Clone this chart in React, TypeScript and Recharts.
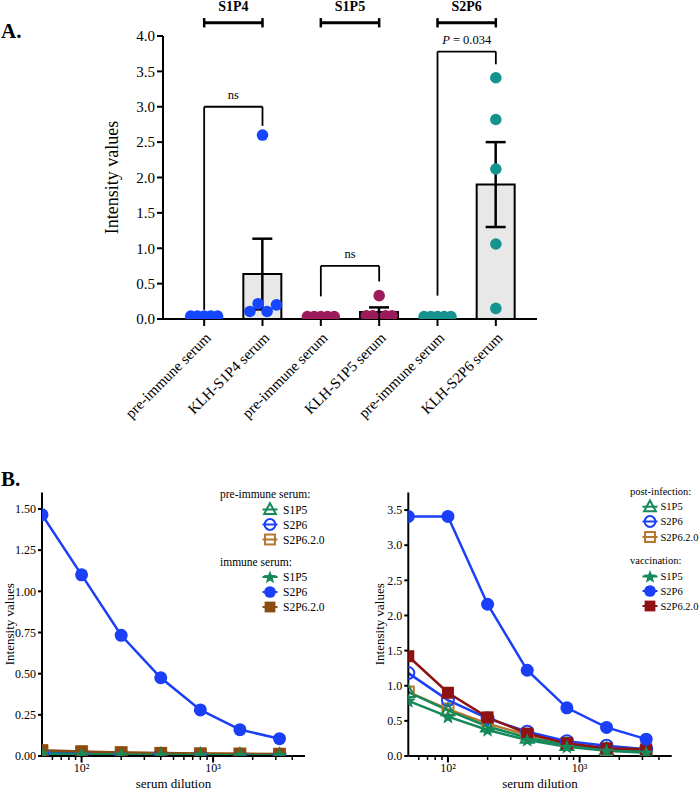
import React from 'react';
import {
  ComposedChart, Bar, ErrorBar, Scatter, XAxis, YAxis, ReferenceLine,
  LineChart, Line, Legend,
} from 'recharts';

const SERIF = "'Liberation Serif', 'Times New Roman', Times, serif";
const BLUE_A = '#1447ff';
const CRIMSON = '#9c1b5b';
const TEAL = '#14938f';
const GREEN = '#14895a';
const BLUE = '#1a3ff7';
const BROWN_LIGHT = '#b5762e';
const BROWN_DARK = '#8a4a10';
const DARK_RED = '#8e1212';

// ---------------- Panel A data ----------------
const categoriesA = [
  'pre-immune serum', 'KLH-S1P4 serum',
  'pre-immune serum', 'KLH-S1P5 serum',
  'pre-immune serum', 'KLH-S2P6 serum',
];
const yTicksA = [0, 0.5, 1, 1.5, 2, 2.5, 3, 3.5, 4];
const groupNames = ['S1P4', 'S1P5', 'S2P6'];
const barCats = [1, 3, 5];
const barMeans = [0.635, 0.098, 1.9];
const barSems = [0.5, 0.066, 0.6];

const preS1P4 = [0.04, 0.04, 0.04, 0.04, 0.04];
const klhS1P4 = [0.107, 0.216, 2.6, 0.107, 0.2];
const preS1P5 = [0.035, 0.035, 0.035, 0.035, 0.035];
const klhS1P5 = [0.045, 0.045, 0.33, 0.045, 0.045];
const preS2P6 = [0.035, 0.035, 0.035, 0.035, 0.035];
const klhS2P6 = [3.41, 2.82, 2.12, 1.06, 0.15];
const jitterPre = [-0.23, -0.115, 0, 0.115, 0.23];
const jitterKlhS1P4 = [-0.216, -0.075, 0, 0.078, 0.24];
const jitterKlhS1P5 = [-0.22, -0.11, 0, 0.11, 0.22];
const jitterKlhS2P6 = [0, 0, 0, 0, 0];

// significance brackets
const sigBrackets = [
  { from: 0, to: 1, top: 3.0, lb: 0.13, rb: 2.73, text: 'ns' },
  { from: 2, to: 3, top: 0.75, lb: 0.32, rb: 0.53, text: 'ns' },
  { from: 4, to: 5, top: 3.78, lb: 0.33, rb: 3.6, text: 'P' },
];
const groupBracketY = 4.187;
const groupCapHalf = 0.066;

const barDataA = categoriesA.map((c, i) => {
  const k = barCats.indexOf(i);
  return { i, name: c, mean: k >= 0 ? barMeans[k] : null, sem: k >= 0 ? barSems[k] : null };
});
const pts = (cat: number, vals: number[], jit: number[]) =>
  vals.map((v, i) => ({ x: cat + jit[i], y: v }));
const scatterSets = [
  { data: pts(0, preS1P4, jitterPre), color: BLUE_A },
  { data: pts(1, klhS1P4, jitterKlhS1P4), color: BLUE_A },
  { data: pts(2, preS1P5, jitterPre), color: CRIMSON },
  { data: pts(3, klhS1P5, jitterKlhS1P5), color: CRIMSON },
  { data: pts(4, preS2P6, jitterPre), color: TEAL },
  { data: pts(5, klhS2P6, jitterKlhS2P6), color: TEAL },
];

// ---------------- Panel B data ----------------
const dilutions = [50, 100, 200, 400, 800, 1600, 3200];
const logTicks = [60, 70, 80, 90, 100, 200, 300, 400, 500, 600, 700, 800, 900, 1000, 2000, 3000, 4000];
const yTicksBL = [0, 0.25, 0.5, 0.75, 1, 1.25, 1.5];
const yTicksBR = [0, 0.5, 1, 1.5, 2, 2.5, 3, 3.5];

// left: pre-immune vs immune serum
const preImmS1P5 = [0.01, 0.008, 0.007, 0.006, 0.005, 0.005, 0.004];
const preImmS2P6 = [0.02, 0.015, 0.012, 0.01, 0.008, 0.007, 0.007];
const preImmS2P62 = [0.03, 0.025, 0.02, 0.016, 0.013, 0.012, 0.011];
const immS1P5 = [0.015, 0.01, 0.008, 0.007, 0.006, 0.005, 0.005];
const immS2P6 = [1.465, 1.1, 0.733, 0.475, 0.28, 0.16, 0.105];
const immS2P62 = [0.035, 0.028, 0.022, 0.018, 0.015, 0.013, 0.012];

// right: post-infection vs vaccination
const postS1P5 = [0.91, 0.65, 0.42, 0.26, 0.156, 0.095, 0.06];
const postS2P6 = [1.18, 0.795, 0.535, 0.345, 0.21, 0.147, 0.095];
const postS2P62 = [0.91, 0.667, 0.46, 0.3, 0.18, 0.08, 0.06];
const vacS1P5 = [0.785, 0.56, 0.37, 0.227, 0.13, 0.076, 0.047];
const vacS2P6 = [3.41, 3.41, 2.16, 1.22, 0.686, 0.407, 0.24];
const vacS2P62 = [1.42, 0.9, 0.55, 0.32, 0.18, 0.11, 0.095];

const tableLeft = dilutions.map((d, i) => ({
  d, preS1P5: preImmS1P5[i], preS2P6: preImmS2P6[i], preS2P62: preImmS2P62[i],
  immS1P5: immS1P5[i], immS2P6: immS2P6[i], immS2P62: immS2P62[i],
}));
const tableRight = dilutions.map((d, i) => ({
  d, postS1P5: postS1P5[i], postS2P6: postS2P6[i], postS2P62: postS2P62[i],
  vacS1P5: vacS1P5[i], vacS2P6: vacS2P6[i], vacS2P62: vacS2P62[i],
}));

const seriesLeft = [
  { key: 'preS2P62', shape: 'sqOpen', color: BROWN_LIGHT },
  { key: 'preS2P6', shape: 'circOpen', color: BLUE },
  { key: 'preS1P5', shape: 'triOpen', color: GREEN },
  { key: 'immS2P62', shape: 'sqFill', color: BROWN_DARK },
  { key: 'immS2P6', shape: 'circFill', color: BLUE },
  { key: 'immS1P5', shape: 'star', color: GREEN },
];
const seriesRight = [
  { key: 'postS2P62', shape: 'sqOpen', color: BROWN_LIGHT },
  { key: 'postS2P6', shape: 'circOpen', color: BLUE },
  { key: 'postS1P5', shape: 'triOpen', color: GREEN },
  { key: 'vacS2P62', shape: 'sqFill', color: DARK_RED },
  { key: 'vacS1P5', shape: 'star', color: GREEN },
  { key: 'vacS2P6', shape: 'circFill', color: BLUE },
];

const legendLeft = [
  { title: 'pre-immune serum:', items: [
    { label: 'S1P5', shape: 'triOpen', color: GREEN },
    { label: 'S2P6', shape: 'circOpen', color: BLUE },
    { label: 'S2P6.2.0', shape: 'sqOpen', color: BROWN_LIGHT },
  ] },
  { title: 'immune serum:', items: [
    { label: 'S1P5', shape: 'star', color: GREEN },
    { label: 'S2P6', shape: 'circFill', color: BLUE },
    { label: 'S2P6.2.0', shape: 'sqFill', color: BROWN_DARK },
  ] },
];
const legendRight = [
  { title: 'post-infection:', items: [
    { label: 'S1P5', shape: 'triOpen', color: GREEN },
    { label: 'S2P6', shape: 'circOpen', color: BLUE },
    { label: 'S2P6.2.0', shape: 'sqOpen', color: BROWN_LIGHT },
  ] },
  { title: 'vaccination:', items: [
    { label: 'S1P5', shape: 'star', color: GREEN },
    { label: 'S2P6', shape: 'circFill', color: BLUE },
    { label: 'S2P6.2.0', shape: 'sqFill', color: DARK_RED },
  ] },
];

// ---------------- helpers ----------------
const Marker = ({ shape, color, cx, cy, s = 1 }: any) => {
  switch (shape) {
    case 'triOpen':
      return <polygon points={`${cx},${cy - 7 * s} ${cx + 6.5 * s},${cy + 5 * s} ${cx - 6.5 * s},${cy + 5 * s}`} fill="none" stroke={color} strokeWidth={2} />;
    case 'circOpen':
      return <circle cx={cx} cy={cy} r={6 * s} fill="none" stroke={color} strokeWidth={2} />;
    case 'sqOpen':
      return <rect x={cx - 5.5 * s} y={cy - 5.5 * s} width={11 * s} height={11 * s} fill="none" stroke={color} strokeWidth={2} />;
    case 'star': {
      const p: string[] = [];
      for (let k = 0; k < 10; k++) {
        const a = (-90 + k * 36) * Math.PI / 180;
        const r = (k % 2 === 0 ? 7.8 : 3.3) * s;
        p.push(`${cx + r * Math.cos(a)},${cy + 0.5 * s + r * Math.sin(a)}`);
      }
      return <polygon points={p.join(' ')} fill={color} />;
    }
    case 'circFill':
      return <circle cx={cx} cy={cy} r={6.5 * s} fill={color} />;
    case 'sqFill':
      return <rect x={cx - 6 * s} y={cy - 6 * s} width={12 * s} height={12 * s} fill={color} />;
    default:
      return null;
  }
};

const makeDot = (shape: string, color: string) => (props: any) => {
  const { cx, cy, index } = props;
  if (cx == null || cy == null) return <g key={`d${index}`} />;
  return <g key={`d${index}`}><Marker shape={shape} color={color} cx={cx} cy={cy} /></g>;
};

const VLabel = (props: any) => {
  const { viewBox, text, offsetX, fontSize } = props;
  const x = viewBox.x + offsetX;
  const y = viewBox.y + viewBox.height / 2;
  return (
    <text x={x} y={y} transform={`rotate(-90 ${x} ${y})`} textAnchor="middle" dominantBaseline="central"
      style={{ fontFamily: SERIF }} fontSize={fontSize} fill="#000">{text}</text>
  );
};

const HLabel = (props: any) => {
  const { viewBox, text, dy, fontSize } = props;
  const x = viewBox.x + viewBox.width / 2;
  const y = viewBox.y + dy;
  return <text x={x} y={y} textAnchor="middle" style={{ fontFamily: SERIF }} fontSize={fontSize} fill="#000">{text}</text>;
};

const PLabel = (props: any) => {
  const { viewBox } = props;
  const x = viewBox.x + viewBox.width / 2;
  const y = viewBox.y - 7.5;
  return (
    <text x={x} y={y} textAnchor="middle" style={{ fontFamily: SERIF }} fontSize={12.5} fill="#000">
      <tspan fontStyle="italic">P</tspan> = 0.034
    </text>
  );
};

const RotTick = (props: any) => {
  const { x, y, payload } = props;
  const ax = x + 4;
  const ay = y + 7;
  return (
    <text x={ax} y={ay} dy="0.35em" transform={`rotate(-45 ${ax} ${ay})`} textAnchor="end"
      style={{ fontFamily: SERIF }} fontSize={15} fill="#000">{categoriesA[payload.value]}</text>
  );
};

const LogTick = (props: any) => {
  const { x, y, payload } = props;
  const v = payload.value;
  const major = v === 100 || v === 1000;
  return (
    <g>
      <line x1={x} x2={x} y1={y} y2={y + (major ? 6.5 : 4)} stroke="#000" strokeWidth={major ? 2 : 1.5} />
      {major && (
        <text x={x} y={y + 16} textAnchor="middle" style={{ fontFamily: SERIF }} fontSize={12} fill="#000">
          {v === 100 ? '10²' : '10³'}
        </text>
      )}
    </g>
  );
};

const LegendBlock = ({ groups, w, h, titleX, markerX, textX, titleYs, rowYs, fs }: any) => (
  <svg width={w} height={h} style={{ overflow: 'visible', display: 'block', fontFamily: SERIF }}>
    {groups.map((g: any, gi: number) => (
      <g key={gi}>
        <text x={titleX} y={titleYs[gi]} dominantBaseline="central" fontSize={fs} fill="#000">{g.title}</text>
        {g.items.map((it: any, ii: number) => {
          const cy = rowYs[gi][ii];
          return (
            <g key={ii}>
              <line x1={markerX - 7.5} x2={markerX + 7.5} y1={cy} y2={cy} stroke={it.color} strokeWidth={2} />
              <Marker shape={it.shape} color={it.color} cx={markerX} cy={cy} s={0.9} />
              <text x={textX} y={cy} dominantBaseline="central" fontSize={fs} fill="#000">{it.label}</text>
            </g>
          );
        })}
      </g>
    ))}
  </svg>
);

const axisStyle = { stroke: '#000', strokeWidth: 2 };
const tickFontA = { fontSize: 15, fontFamily: SERIF, fill: '#000' };
const tickFontB = { fontSize: 12, fontFamily: SERIF, fill: '#000' };

// ---------------- components ----------------
const PanelA = () => (
  <ComposedChart width={700} height={470} data={barDataA} margin={{ top: 36, right: 163, bottom: 11, left: 61 }}>
    <XAxis xAxisId="cat" dataKey="i" type="category" interval={0} padding={{ left: 12, right: 12 }}
      height={140} tick={<RotTick />} tickSize={7} axisLine={axisStyle} tickLine={axisStyle} />
    <XAxis xAxisId="num" dataKey="x" type="number" domain={[-0.5, 5.5]} padding={{ left: 12, right: 12 }}
      hide allowDataOverflow />
    <YAxis type="number" domain={[0, 4]} ticks={yTicksA} interval={0} width={102}
      tickFormatter={(v: number) => v.toFixed(1)} tickSize={6} tickMargin={2}
      tick={tickFontA} axisLine={axisStyle} tickLine={axisStyle}
      label={<VLabel text="Intensity values" offsetX={51} fontSize={18} />} allowDataOverflow />
    <Bar xAxisId="cat" dataKey="mean" barSize={38} fill="#e8e8e8" stroke="#000" strokeWidth={2} isAnimationActive={false}>
      <ErrorBar dataKey="sem" width={10} stroke="#000" strokeWidth={2.5} direction="y" />
    </Bar>
    {scatterSets.map((s, i) => (
      <Scatter key={i} xAxisId="num" data={s.data} dataKey="y" isAnimationActive={false}
        shape={(p: any) => <circle cx={p.cx} cy={p.cy} r={5.8} fill={s.color} />} />
    ))}
    {sigBrackets.map((b, i) => (
      <React.Fragment key={`sb${i}`}>
        <ReferenceLine xAxisId="num" segment={[{ x: b.from, y: b.lb }, { x: b.from, y: b.top }]} stroke="#000" strokeWidth={1.8} />
        <ReferenceLine xAxisId="num" segment={[{ x: b.from, y: b.top }, { x: b.to, y: b.top }]} stroke="#000" strokeWidth={1.8}
          label={b.text === 'P' ? <PLabel /> : { value: b.text, position: 'top', offset: 7.5, fontSize: 12.5, fontFamily: SERIF, fill: '#000' }} />
        <ReferenceLine xAxisId="num" segment={[{ x: b.to, y: b.top }, { x: b.to, y: b.rb }]} stroke="#000" strokeWidth={1.8} />
      </React.Fragment>
    ))}
    {groupNames.map((g, i) => (
      <React.Fragment key={`gb${i}`}>
        <ReferenceLine xAxisId="num" ifOverflow="visible" segment={[{ x: i * 2, y: groupBracketY }, { x: i * 2 + 1, y: groupBracketY }]}
          stroke="#000" strokeWidth={2.8}
          label={{ value: g, position: 'top', offset: 12, fontSize: 14, fontWeight: 'bold', fontFamily: SERIF, fill: '#000' }} />
        <ReferenceLine xAxisId="num" ifOverflow="visible" segment={[{ x: i * 2, y: groupBracketY - groupCapHalf }, { x: i * 2, y: groupBracketY + groupCapHalf }]}
          stroke="#000" strokeWidth={2.5} />
        <ReferenceLine xAxisId="num" ifOverflow="visible" segment={[{ x: i * 2 + 1, y: groupBracketY - groupCapHalf }, { x: i * 2 + 1, y: groupBracketY + groupCapHalf }]}
          stroke="#000" strokeWidth={2.5} />
      </React.Fragment>
    ))}
  </ComposedChart>
);

const DilutionChart = ({ data, series, yDomain, yTicks, yFmt, yWidth, marginRight, labelX, legend, legendLeft, legendProps }: any) => (
  <LineChart width={350} height={310} data={data} margin={{ top: 12.5, right: marginRight, bottom: 0, left: 0 }}>
    <XAxis dataKey="d" type="number" scale="log" domain={[50, 5000]} ticks={logTicks} interval={0}
      height={34} tickSize={0} tickMargin={0} tickLine={false} tick={<LogTick />} axisLine={axisStyle}
      label={<HLabel text="serum dilution" dy={32} fontSize={13} />} allowDataOverflow />
    <YAxis type="number" domain={yDomain} ticks={yTicks} interval={0} width={yWidth}
      tickFormatter={yFmt} tickSize={4} tickMargin={2}
      tick={tickFontB} axisLine={axisStyle} tickLine={axisStyle}
      label={<VLabel text="Intensity values" offsetX={labelX} fontSize={13} />} allowDataOverflow />
    {series.map((s: any) => (
      <Line key={s.key} dataKey={s.key} type="linear" stroke={s.color} strokeWidth={2.5}
        dot={makeDot(s.shape, s.color)} activeDot={false} isAnimationActive={false} />
    ))}
    <Legend layout="vertical" align="center" verticalAlign="middle"
      wrapperStyle={{ left: legendLeft, top: 0, width: 140, height: 140 }}
      content={() => <LegendBlock groups={legend} {...legendProps} />} />
  </LineChart>
);

export default function App() {
  return (
    <div style={{ position: 'absolute', left: 0, top: 0, width: 700, height: 790, background: '#fff', fontFamily: SERIF, overflow: 'hidden' }}>
      <div style={{ position: 'absolute', left: 0, top: 0 }}>
        <PanelA />
      </div>
      <div style={{ position: 'absolute', left: 0, top: 480 }}>
        <DilutionChart data={tableLeft} series={seriesLeft} yDomain={[0, 1.6]} yTicks={yTicksBL}
          yFmt={(v: number) => v.toFixed(2)} yWidth={42} marginRight={45} labelX={9.5}
          legend={legendLeft} legendLeft={205}
          legendProps={{ w: 140, h: 140, fs: 11.5, titleX: 15, markerX: 65, textX: 78, titleYs: [14, 81.5], rowYs: [[29.5, 44.5, 59.5], [97, 112, 127]] }} />
      </div>
      <div style={{ position: 'absolute', left: 350, top: 480 }}>
        <DilutionChart data={tableRight} series={seriesRight} yDomain={[0, 3.75]} yTicks={yTicksBR}
          yFmt={(v: number) => v.toFixed(1)} yWidth={58.3} marginRight={28.3} labelX={29}
          legend={legendRight} legendLeft={275}
          legendProps={{ w: 75, h: 140, fs: 10.5, titleX: 5, markerX: 25, textX: 35.5, titleYs: [11, 80], rowYs: [[26.7, 41.5, 57], [96.5, 111, 126]] }} />
      </div>
      <svg width={700} height={790} style={{ position: 'absolute', left: 0, top: 0, pointerEvents: 'none' }}>
        <text x={1} y={38} style={{ fontFamily: SERIF }} fontWeight="bold" fontSize={21} fill="#000">A.</text>
        <text x={1} y={486} style={{ fontFamily: SERIF }} fontWeight="bold" fontSize={21} fill="#000">B.</text>
      </svg>
    </div>
  );
}
